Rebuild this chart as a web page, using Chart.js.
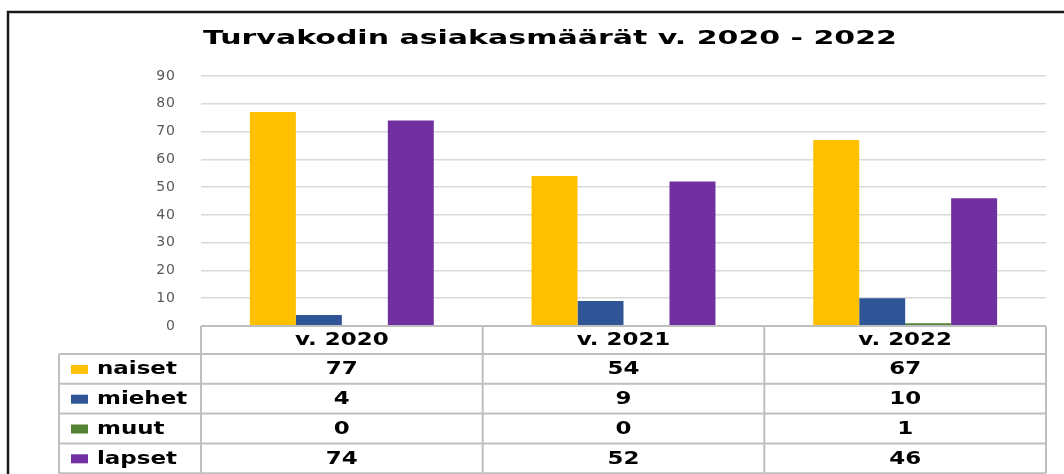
<!DOCTYPE html>
<html>
<head>
<meta charset="utf-8">
<script src="https://cdn.jsdelivr.net/npm/chart.js@4/dist/chart.umd.min.js"></script>
<style>
  body { margin: 0; background: #fff; }
  #wrap { width: 1064px; height: 474px; position: relative; }
</style>
</head>
<body>
<div id="wrap"><canvas id="chart"></canvas></div>
<script>
const years = ['v. 2020', 'v. 2021', 'v. 2022'];
const naiset = [77, 54, 67];
const miehet = [4, 9, 10];
const muut = [0, 0, 1];
const lapset = [74, 52, 46];
const yTicks = [0, 10, 20, 30, 40, 50, 60, 70, 80, 90];
const title = 'Turvakodin asiakasmäärät v. 2020 - 2022';

const colors = ['#FFC000', '#2F5597', '#548235', '#7030A0'];

// the source picture is horizontally stretched, so text gets a wider x scale
function wideText(c, text, x, y, sx, align) {
  c.save();
  c.translate(x, y);
  c.scale(sx, 1);
  c.textAlign = align;
  c.fillText(text, 0, 0);
  c.restore();
}

// frame, title and data table under the plot, aligned with the x scale
const tablePlugin = {
  id: 'dataTable',
  beforeDraw(chart) {
    const c = chart.ctx;
    c.save();
    c.strokeStyle = '#1a1a1a';
    c.lineWidth = 2.5;
    c.strokeRect(8, 12, chart.width + 20, chart.height + 20);
    c.fillStyle = '#000';
    c.font = 'bold 20px "DejaVu Sans"';
    c.textBaseline = 'middle';
    wideText(c, title, 550, 39, 1.5, 'center');
    c.restore();
    c.letterSpacing = '1px';
  },
  afterDraw(chart) {
    const c = chart.ctx;
    const area = chart.chartArea;
    const x = chart.scales.x;
    const half = (area.right - area.left) / years.length / 2;
    const labelLeft = area.left - 142;
    const headTop = area.bottom;
    const headH = 28;
    const rowH = 29.8;
    const sets = chart.data.datasets;
    const bottom = headTop + headH + rowH * sets.length;

    c.save();
    c.letterSpacing = '0px';
    c.strokeStyle = '#bfbfbf';
    c.lineWidth = 2;
    c.beginPath();
    c.moveTo(area.left, headTop); c.lineTo(area.right, headTop);
    for (let r = 0; r <= sets.length; r++) {
      const y = headTop + headH + r * rowH;
      c.moveTo(labelLeft, y); c.lineTo(area.right, y);
    }
    c.moveTo(labelLeft, headTop + headH); c.lineTo(labelLeft, bottom);
    c.moveTo(area.left, headTop); c.lineTo(area.left, bottom);
    years.forEach((_, i) => {
      const xr = x.getPixelForValue(i) + half;
      c.moveTo(xr, headTop); c.lineTo(xr, bottom);
    });
    c.stroke();

    c.fillStyle = '#000';
    c.font = 'bold 17px "DejaVu Sans"';
    c.textBaseline = 'middle';
    years.forEach((yr, i) => {
      wideText(c, yr, x.getPixelForValue(i), headTop + headH / 2 + 1, 1.35, 'center');
    });
    sets.forEach((ds, r) => {
      const yMid = headTop + headH + r * rowH + rowH / 2 + 1;
      c.fillStyle = ds.backgroundColor;
      c.fillRect(labelLeft + 12, yMid - 5, 17, 9);
      c.fillStyle = '#000';
      wideText(c, ds.label, labelLeft + 38, yMid, 1.35, 'left');
      ds.data.forEach((v, i) => {
        wideText(c, String(v), x.getPixelForValue(i), yMid, 1.35, 'center');
      });
    });
    c.restore();
  }
};

new Chart(document.getElementById('chart'), {
  type: 'bar',
  data: {
    labels: years,
    datasets: [
      { label: 'naiset', data: naiset, backgroundColor: colors[0] },
      { label: 'miehet', data: miehet, backgroundColor: colors[1] },
      { label: 'muut', data: muut, backgroundColor: colors[2] },
      { label: 'lapset', data: lapset, backgroundColor: colors[3] }
    ]
  },
  options: {
    responsive: true,
    maintainAspectRatio: false,
    animation: false,
    layout: { padding: { top: 76, left: 54, right: 18, bottom: 148 } },
    datasets: {
      bar: { barPercentage: 1, categoryPercentage: 0.653, borderWidth: 0 }
    },
    scales: {
      x: { display: false, offset: true },
      y: {
        min: 0,
        max: 90,
        afterBuildTicks(scale) { scale.ticks = yTicks.map(v => ({ value: v })); },
        afterFit(scale) { scale.width = 147; },
        border: { display: false },
        grid: { color: '#d9d9d9', lineWidth: 1.5, drawTicks: false },
        ticks: {
          padding: 25,
          color: '#595959',
          font: { family: 'DejaVu Sans', size: 14 }
        }
      }
    },
    plugins: {
      legend: { display: false },
      tooltip: { enabled: false },
      title: { display: false }
    }
  },
  plugins: [tablePlugin]
});
</script>
</body>
</html>
